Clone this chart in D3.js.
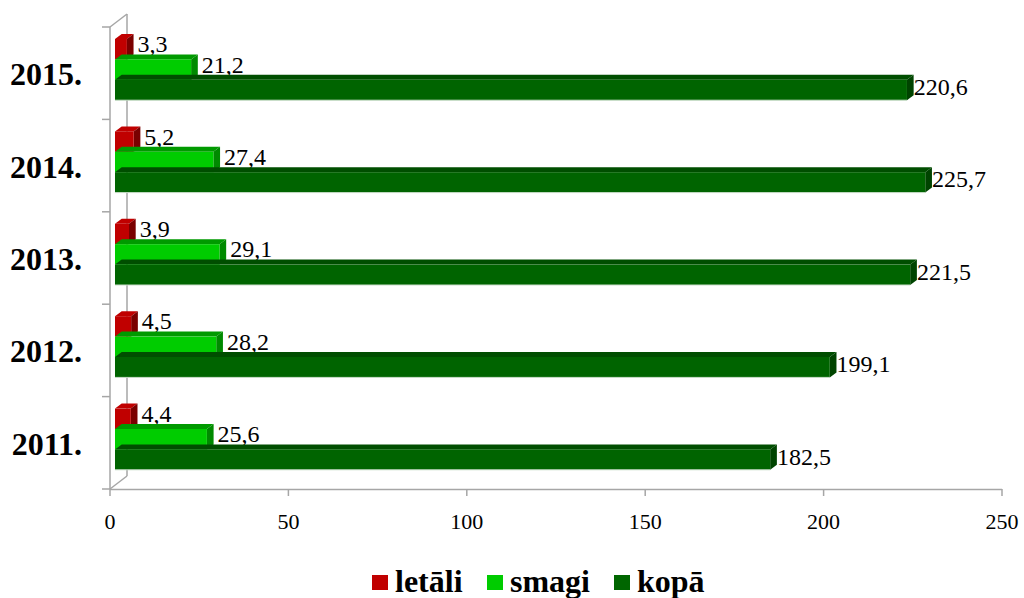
<!DOCTYPE html>
<html>
<head>
<meta charset="utf-8">
<script src="https://cdn.jsdelivr.net/npm/d3@7"></script>
<style>
  body { margin: 0; background: #fff; }
  svg { display: block; font-family: "Liberation Serif", "Times New Roman", serif; }
</style>
</head>
<body>
<svg id="chart" width="1024" height="598"></svg>
<script>
// data
const years = ["2015.", "2014.", "2013.", "2012.", "2011."];
const series = ["letāli", "smagi", "kopā"];
const letali = [3.3, 5.2, 3.9, 4.5, 4.4];
const smagi = [21.2, 27.4, 29.1, 28.2, 25.6];
const kopa = [220.6, 225.7, 221.5, 199.1, 182.5];
const xTicks = [0, 50, 100, 150, 200, 250];

const values = [letali, smagi, kopa];
// front, top, side colours per series
const colFront = ["#c00000", "#00cc00", "#006400"];
const colTop = ["#c00000", "#009a00", "#004e00"];
const colSide = ["#7a0000", "#008a00", "#004400"];
const colLegend = ["#c00000", "#00cc00", "#006600"];

const svg = d3.select("#chart");
const axisCol = "#a6a6a6";

// wall depth offset and bar depth offset
const wdx = 17, wdy = -13;
const bdx = 6.7, bdy = -5;

const xAxisScale = d3.scaleLinear().domain([0, 250]).range([110, 1002]);
const xBar = d3.scaleLinear().domain([0, 250]).range([115, 1012.5]);
const yBand = d3.scaleBand().domain(years).range([27, 489]);
const ySer = d3.scaleBand().domain(series).range([12, 73.2]);

// ---- walls / axes ----
const g = svg.append("g");
function wall(x1, y1, x2, y2) {
  g.append("line").attr("x1", x1).attr("y1", y1).attr("x2", x2).attr("y2", y2)
    .attr("stroke", axisCol).attr("stroke-width", 1.5);
}
wall(110, 27, 110, 489);
wall(110 + wdx, 27 + wdy, 110 + wdx, 489 + wdy);
wall(110, 27, 110 + wdx, 27 + wdy);
wall(110, 489, 110 + wdx, 489 + wdy);

// category ticks
const catEdges = years.map(d => yBand(d)).concat([489]);
g.selectAll(".ctick").data(catEdges).enter().append("line")
  .attr("x1", 102).attr("x2", 110)
  .attr("y1", d => d).attr("y2", d => d)
  .attr("stroke", axisCol).attr("stroke-width", 1.5);

// x axis
wall(110, 489.5, 1002, 489.5);
g.selectAll(".xtick").data(xTicks).enter().append("line")
  .attr("x1", d => xAxisScale(d)).attr("x2", d => xAxisScale(d))
  .attr("y1", 489).attr("y2", 496)
  .attr("stroke", axisCol).attr("stroke-width", 1.5);
g.selectAll(".xlab").data(xTicks).enter().append("text")
  .attr("x", d => xAxisScale(d)).attr("y", 529)
  .attr("text-anchor", "middle").attr("font-size", 22).attr("fill", "#000")
  .text(d => d);

// year labels
g.selectAll(".ylab").data(years).enter().append("text")
  .attr("x", 82).attr("y", d => yBand(d) + yBand.bandwidth() / 2 + 12)
  .attr("text-anchor", "end").attr("font-size", 32).attr("font-weight", "bold")
  .attr("fill", "#000")
  .text(d => d);

// ---- bars ----
const bars = svg.append("g");
years.forEach((yr, i) => {
  series.forEach((s, k) => {
    const v = values[k][i];
    const x0 = xBar(0), x1 = xBar(v);
    const y0 = yBand(yr) + ySer(s);
    const h = ySer.bandwidth();
    // top face
    bars.append("path")
      .attr("d", `M${x0},${y0} L${x0 + bdx},${y0 + bdy} L${x1 + bdx},${y0 + bdy} L${x1},${y0} Z`)
      .attr("fill", colTop[k]);
    // side face
    bars.append("path")
      .attr("d", `M${x1},${y0} L${x1 + bdx},${y0 + bdy} L${x1 + bdx},${y0 + h + bdy} L${x1},${y0 + h} Z`)
      .attr("fill", colSide[k]);
    // front face
    bars.append("rect")
      .attr("x", x0).attr("y", y0).attr("width", x1 - x0).attr("height", h)
      .attr("fill", colFront[k]);
    if (k === 2) {
      bars.append("line")
        .attr("x1", x0).attr("x2", x1).attr("y1", y0 + h).attr("y2", y0 + h)
        .attr("stroke", "#c9dcc9").attr("stroke-width", 1);
    }
    // value label
    const lx = x1 + bdx + (k === 2 ? 0 : 4);
    const ly = y0 + h / 2 + (k === 2 ? -3 : -5) + 8;
    bars.append("text")
      .attr("x", lx).attr("y", ly)
      .attr("font-size", 24).attr("fill", "#000")
      .text(String(v).replace(".", ","));
  });
});

// ---- legend ----
const legX = [372, 487, 614];
const leg = svg.append("g");
series.forEach((s, k) => {
  leg.append("rect").attr("x", legX[k]).attr("y", 575).attr("width", 16).attr("height", 15)
    .attr("fill", colLegend[k]);
  leg.append("text").attr("x", legX[k] + 23).attr("y", 592)
    .attr("font-size", 32).attr("font-weight", "bold").attr("fill", "#000")
    .text(s);
});
</script>
</body>
</html>
